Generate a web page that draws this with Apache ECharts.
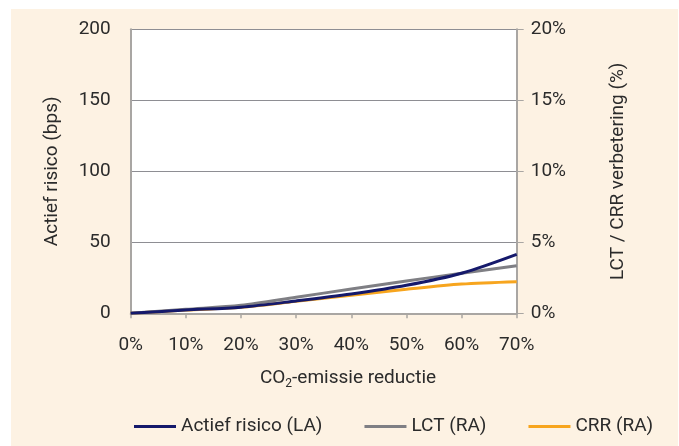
<!DOCTYPE html>
<html>
<head>
<meta charset="utf-8">
<script src="https://cdn.jsdelivr.net/npm/echarts@6/dist/echarts.min.js"></script>
<style>
  html, body { margin: 0; padding: 0; background: #ffffff; }
  #chart { width: 679px; height: 446px; }
</style>
</head>
<body>
<div id="chart"></div>
<script>
// CO2 emission reduction steps (%)
const reduction = [0, 10, 20, 30, 40, 50, 60, 70];
// Active risk in basis points (left axis)
const activeRisk = [0, 2.3, 4.3, 8.7, 13.6, 19.7, 28.2, 41.5];
// LCT improvement in % (right axis)
const lct = [0, 0.28, 0.56, 1.13, 1.71, 2.27, 2.82, 3.35];
// CRR improvement in % (right axis)
const crr = [0, 0.23, 0.42, 0.84, 1.27, 1.69, 2.06, 2.23];

const leftTicks = [0, 50, 100, 150, 200];
const rightTicks = [0, 5, 10, 15, 20];

const FONT = 'Roboto';
const FS = 19;
const TEXT = '#2b2b2b';
const AXIS = '#a9a6a3';
const GRID = '#8e8e93';

const pair = (ys) => reduction.map((x, i) => [x, ys[i]]);

const chart = echarts.init(document.getElementById('chart'));
chart.setOption({
  backgroundColor: '#ffffff',
  animation: false,
  textStyle: { fontFamily: FONT, color: TEXT },
  graphic: [
    {
      type: 'rect', z: -10, silent: true,
      shape: { x: 11, y: 9, width: 667, height: 437 },
      style: { fill: '#fdf2e3' }
    },
    {
      type: 'text', z: 10,
      style: {
        x: 348, y: 378, align: 'center', verticalAlign: 'middle',
        text: 'CO{sub|2}-emissie reductie',
        font: FS + 'px ' + FONT, fill: TEXT,
        rich: { sub: { fontSize: 12, fontFamily: FONT, fill: TEXT, padding: [11, 0, 0, 0] } }
      }
    }
  ],
  grid: { left: 130.7, right: 162.3, top: 29.3, bottom: 132.7, show: true, backgroundColor: '#ffffff', borderWidth: 0 },
  legend: {
    left: 129, top: 412,
    icon: 'rect', itemWidth: 42, itemHeight: 3, itemGap: 42,
    textStyle: { fontFamily: FONT, fontSize: FS, color: TEXT },
    data: ['Actief risico (LA)', 'LCT (RA)', 'CRR (RA)']
  },
  xAxis: {
    type: 'value', min: 0, max: 70, interval: 10,
    axisLine: { show: true, lineStyle: { color: AXIS, width: 2 } },
    axisTick: { show: true, inside: false, length: 5, lineStyle: { color: AXIS, width: 1.5 } },
    axisLabel: { formatter: '{value}%', fontFamily: FONT, fontSize: FS, color: TEXT, margin: 22 },
    splitLine: { show: false }
  },
  yAxis: [
    {
      type: 'value', min: leftTicks[0], max: leftTicks[leftTicks.length - 1], interval: 50,
      name: 'Actief risico (bps)', nameLocation: 'middle', nameGap: 69, nameRotate: 90,
      nameTextStyle: { fontFamily: FONT, fontSize: FS, color: TEXT },
      axisLine: { show: true, lineStyle: { color: AXIS, width: 2 } },
      axisTick: { show: false },
      axisLabel: { fontFamily: FONT, fontSize: FS, color: TEXT, margin: 20 },
      splitLine: { show: true, lineStyle: { color: GRID, width: 1 } }
    },
    {
      type: 'value', min: rightTicks[0], max: rightTicks[rightTicks.length - 1], interval: 5,
      position: 'right',
      name: 'LCT / CRR verbetering (%)', nameLocation: 'middle', nameGap: 92, nameRotate: 90,
      nameTextStyle: { fontFamily: FONT, fontSize: FS, color: TEXT },
      axisLine: { show: true, lineStyle: { color: AXIS, width: 2 } },
      axisTick: { show: true, inside: false, length: 7, lineStyle: { color: AXIS, width: 1 } },
      axisLabel: { formatter: '{value}%', fontFamily: FONT, fontSize: FS, color: TEXT, margin: 14 },
      splitLine: { show: false }
    }
  ],
  series: [
    {
      name: 'Actief risico (LA)', type: 'line', yAxisIndex: 0, smooth: 0.3,
      showSymbol: false, data: pair(activeRisk),
      itemStyle: { color: '#15196b' }, lineStyle: { color: '#15196b', width: 3 }, z: 5
    },
    {
      name: 'LCT (RA)', type: 'line', yAxisIndex: 1, smooth: 0.3,
      showSymbol: false, data: pair(lct),
      itemStyle: { color: '#7f7f84' }, lineStyle: { color: '#7f7f84', width: 3 }, z: 4
    },
    {
      name: 'CRR (RA)', type: 'line', yAxisIndex: 1, smooth: 0.3,
      showSymbol: false, data: pair(crr),
      itemStyle: { color: '#f7a51e' }, lineStyle: { color: '#f7a51e', width: 3 }, z: 3
    }
  ]
});
</script>
</body>
</html>
